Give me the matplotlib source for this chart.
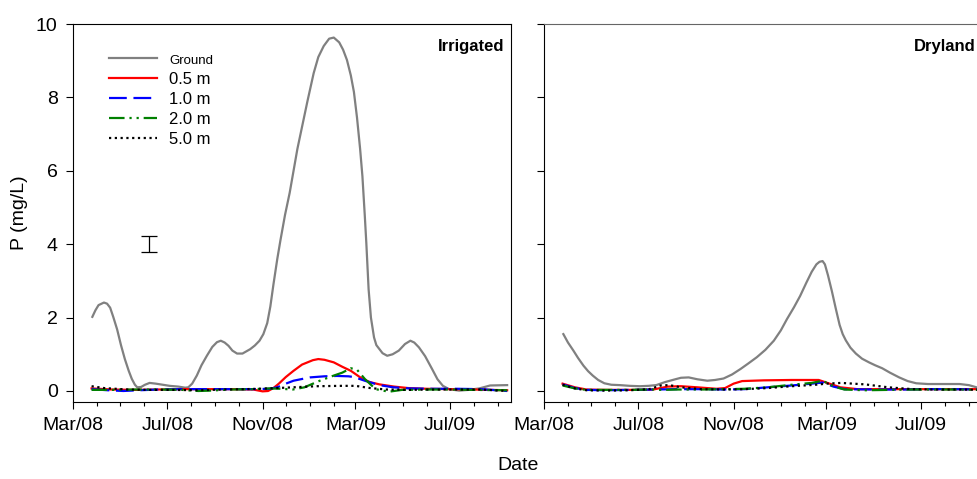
import matplotlib
matplotlib.use("Agg")
import matplotlib.pyplot as plt
import matplotlib.dates as mdates
import pandas as pd

plt.rcParams["font.family"] = ["Liberation Sans", "DejaVu Sans"]

# Irrigated site
irr_ground_dates = ["2008-03-26", "2008-03-30", "2008-04-03", "2008-04-10", "2008-04-14", "2008-04-18",
                    "2008-04-22", "2008-04-27", "2008-05-02", "2008-05-07", "2008-05-12", "2008-05-16",
                    "2008-05-20", "2008-05-23", "2008-05-28", "2008-06-02", "2008-06-08", "2008-06-16",
                    "2008-06-25", "2008-07-04", "2008-07-15", "2008-07-24", "2008-07-28", "2008-08-02",
                    "2008-08-08", "2008-08-14", "2008-08-21", "2008-08-28", "2008-09-03", "2008-09-08",
                    "2008-09-13", "2008-09-18", "2008-09-23", "2008-09-29", "2008-10-06", "2008-10-16",
                    "2008-10-22", "2008-10-28", "2008-11-02", "2008-11-07", "2008-11-11", "2008-11-15",
                    "2008-11-20", "2008-11-24", "2008-11-30", "2008-12-06", "2008-12-11", "2008-12-16",
                    "2008-12-20", "2008-12-29", "2009-01-06", "2009-01-12", "2009-01-19", "2009-01-26",
                    "2009-02-01", "2009-02-08", "2009-02-13", "2009-02-18", "2009-02-23", "2009-02-27",
                    "2009-03-03", "2009-03-07", "2009-03-10", "2009-03-13", "2009-03-15", "2009-03-18",
                    "2009-03-21", "2009-03-25", "2009-03-28", "2009-04-01", "2009-04-05", "2009-04-11",
                    "2009-04-18", "2009-04-26", "2009-05-04", "2009-05-11", "2009-05-16", "2009-05-22",
                    "2009-05-30", "2009-06-08", "2009-06-15", "2009-06-22", "2009-06-30", "2009-07-13",
                    "2009-07-25", "2009-08-08", "2009-08-22", "2009-09-13"]
irr_ground = [2.02, 2.20, 2.34, 2.41, 2.38, 2.27,
              2.02, 1.68, 1.25, 0.87, 0.55, 0.33,
              0.17, 0.10, 0.11, 0.17, 0.22, 0.20,
              0.17, 0.14, 0.12, 0.09, 0.10, 0.20,
              0.42, 0.70, 0.96, 1.20, 1.33, 1.37,
              1.32, 1.23, 1.10, 1.02, 1.02, 1.14,
              1.24, 1.37, 1.55, 1.85, 2.30, 2.90,
              3.60, 4.10, 4.80, 5.40, 6.00, 6.60,
              7.00, 7.90, 8.66, 9.10, 9.40, 9.60,
              9.63, 9.50, 9.30, 9.02, 8.60, 8.15,
              7.45, 6.60, 5.85, 4.80, 4.05, 2.77,
              2.00, 1.46, 1.25, 1.14, 1.03, 0.96,
              1.00, 1.10, 1.28, 1.37, 1.32, 1.19,
              0.95, 0.60, 0.32, 0.14, 0.05, 0.01,
              0.03, 0.07, 0.15, 0.16]

irr_05_dates = ["2008-03-25", "2008-04-20", "2008-05-20", "2008-06-20", "2008-07-20", "2008-08-20",
                "2008-09-20", "2008-10-20", "2008-11-01", "2008-11-08", "2008-11-15", "2008-11-22",
                "2008-12-01", "2008-12-11", "2008-12-22", "2009-01-05", "2009-01-12", "2009-01-20",
                "2009-02-01", "2009-02-12", "2009-02-23", "2009-03-10", "2009-03-20", "2009-04-01",
                "2009-04-20", "2009-05-08", "2009-06-01", "2009-07-01", "2009-08-01", "2009-09-13"]
irr_05 = [0.07, 0.04, 0.03, 0.04, 0.05, 0.05,
          0.05, 0.04, -0.01, 0.0, 0.08, 0.20,
          0.38, 0.55, 0.72, 0.84, 0.87, 0.85,
          0.78, 0.66, 0.55, 0.33, 0.24, 0.18,
          0.12, 0.08, 0.06, 0.05, 0.04, 0.02]

irr_10_dates = ["2008-03-25", "2008-04-15", "2008-05-05", "2008-05-25", "2008-06-20", "2008-07-20",
                "2008-08-20", "2008-09-20", "2008-10-20", "2008-11-10", "2008-11-20", "2008-12-01",
                "2008-12-11", "2009-01-01", "2009-01-20", "2009-02-05", "2009-02-20", "2009-02-27",
                "2009-03-13", "2009-04-01", "2009-04-19", "2009-05-10", "2009-06-10", "2009-07-10",
                "2009-08-10", "2009-09-13"]
irr_10 = [0.05, 0.02, 0.0, 0.02, 0.04, 0.05,
          0.05, 0.05, 0.05, 0.06, 0.10, 0.20,
          0.28, 0.37, 0.40, 0.41, 0.40, 0.38,
          0.28, 0.16, 0.10, 0.07, 0.06, 0.06,
          0.05, 0.0]

irr_20_dates = ["2008-03-25", "2008-04-20", "2008-05-20", "2008-06-20", "2008-07-20", "2008-08-10",
                "2008-08-25", "2008-09-20", "2008-10-20", "2008-11-10", "2008-11-25", "2008-12-10",
                "2008-12-25", "2009-01-14", "2009-02-01", "2009-02-12", "2009-02-23", "2009-03-03",
                "2009-03-13", "2009-03-27", "2009-04-13", "2009-04-30", "2009-06-01", "2009-07-01",
                "2009-08-01", "2009-09-13"]
irr_20 = [0.03, 0.03, 0.04, 0.04, 0.03, 0.0,
          0.01, 0.04, 0.05, 0.07, 0.06, 0.04,
          0.10, 0.28, 0.42, 0.50, 0.62, 0.58,
          0.33, 0.05, -0.02, 0.03, 0.04, 0.04,
          0.03, 0.02]

irr_50_dates = ["2008-03-25", "2008-04-10", "2008-05-10", "2008-06-10", "2008-07-10", "2008-08-10",
                "2008-09-10", "2008-10-10", "2008-11-10", "2008-12-10", "2009-01-10", "2009-02-10",
                "2009-03-01", "2009-03-20", "2009-04-10", "2009-05-10", "2009-06-10", "2009-07-10",
                "2009-08-10", "2009-09-13"]
irr_50 = [0.13, 0.08, 0.04, 0.03, 0.03, 0.02,
          0.04, 0.05, 0.07, 0.10, 0.13, 0.14,
          0.14, 0.08, 0.04, 0.03, 0.04, 0.04,
          0.04, 0.0]

# Dryland site
dry_ground_dates = ["2008-03-26", "2008-04-01", "2008-04-08", "2008-04-14", "2008-04-21", "2008-04-27",
                    "2008-05-03", "2008-05-10", "2008-05-18", "2008-05-27", "2008-06-07", "2008-06-20",
                    "2008-07-03", "2008-07-14", "2008-07-24", "2008-08-04", "2008-08-16", "2008-08-25",
                    "2008-09-04", "2008-09-15", "2008-09-28", "2008-10-08", "2008-10-19", "2008-10-30",
                    "2008-11-10", "2008-11-20", "2008-12-01", "2008-12-12", "2008-12-23", "2009-01-01",
                    "2009-01-09", "2009-01-18", "2009-01-26", "2009-02-03", "2009-02-10", "2009-02-16",
                    "2009-02-20", "2009-02-24", "2009-02-27", "2009-03-03", "2009-03-08", "2009-03-13",
                    "2009-03-18", "2009-03-22", "2009-03-26", "2009-04-01", "2009-04-08", "2009-04-16",
                    "2009-04-25", "2009-05-03", "2009-05-12", "2009-05-22", "2009-06-03", "2009-06-14",
                    "2009-06-25", "2009-07-10", "2009-07-24", "2009-08-08", "2009-08-20", "2009-09-01",
                    "2009-09-11", "2009-09-17"]
dry_ground = [1.55, 1.32, 1.10, 0.90, 0.69, 0.54,
              0.42, 0.30, 0.21, 0.17, 0.16, 0.14,
              0.13, 0.14, 0.16, 0.24, 0.31, 0.36,
              0.37, 0.32, 0.28, 0.30, 0.34, 0.45,
              0.60, 0.75, 0.92, 1.12, 1.37, 1.65,
              1.96, 2.28, 2.59, 2.95, 3.25, 3.45,
              3.52, 3.54, 3.45, 3.15, 2.72, 2.25,
              1.80, 1.55, 1.38, 1.18, 1.02, 0.88,
              0.78, 0.70, 0.62, 0.50, 0.37, 0.27,
              0.21, 0.19, 0.19, 0.19, 0.19, 0.16,
              0.10, 0.08]

dry_05_dates = ["2008-03-25", "2008-04-10", "2008-04-25", "2008-05-20", "2008-06-20", "2008-07-20",
                "2008-08-08", "2008-08-25", "2008-09-15", "2008-10-10", "2008-10-21", "2008-11-01",
                "2008-11-12", "2008-12-10", "2009-01-15", "2009-02-19", "2009-03-05", "2009-03-19",
                "2009-04-10", "2009-05-10", "2009-06-10", "2009-07-10", "2009-08-10", "2009-09-17"]
dry_05 = [0.20, 0.10, 0.04, 0.03, 0.03, 0.04,
          0.12, 0.13, 0.10, 0.06, 0.08, 0.20,
          0.27, 0.29, 0.30, 0.30, 0.20, 0.10,
          0.05, 0.05, 0.05, 0.05, 0.05, 0.05]

dry_10_dates = ["2008-03-25", "2008-04-10", "2008-04-25", "2008-05-20", "2008-06-20", "2008-07-20",
                "2008-08-20", "2008-09-20", "2008-10-20", "2008-11-15", "2008-12-15", "2009-01-15",
                "2009-02-10", "2009-02-24", "2009-03-10", "2009-03-24", "2009-05-01", "2009-06-10",
                "2009-07-10", "2009-08-10", "2009-09-17"]
dry_10 = [0.18, 0.08, 0.03, 0.02, 0.03, 0.04,
          0.05, 0.05, 0.04, 0.05, 0.10, 0.15,
          0.20, 0.23, 0.12, 0.05, 0.04, 0.04,
          0.05, 0.05, 0.04]

dry_20_dates = ["2008-03-25", "2008-04-10", "2008-04-25", "2008-05-20", "2008-06-20", "2008-07-20",
                "2008-08-01", "2008-08-20", "2008-09-20", "2008-10-20", "2008-11-15", "2008-12-15",
                "2009-01-15", "2009-02-10", "2009-02-24", "2009-03-10", "2009-03-24", "2009-04-20",
                "2009-05-20", "2009-06-20", "2009-07-20", "2009-08-20", "2009-09-17"]
dry_20 = [0.15, 0.07, 0.03, 0.03, 0.03, 0.04,
          0.03, 0.04, 0.04, 0.05, 0.06, 0.10,
          0.17, 0.22, 0.28, 0.13, 0.04, 0.02,
          0.03, 0.04, 0.04, 0.04, 0.03]

dry_50_dates = ["2008-03-25", "2008-04-10", "2008-04-25", "2008-05-20", "2008-06-20", "2008-07-15",
                "2008-07-30", "2008-08-10", "2008-08-25", "2008-09-20", "2008-10-20", "2008-11-15",
                "2008-12-15", "2009-01-15", "2009-02-15", "2009-03-01", "2009-03-20", "2009-04-20",
                "2009-05-20", "2009-06-20", "2009-07-20", "2009-08-20", "2009-09-17"]
dry_50 = [0.17, 0.07, 0.02, 0.01, 0.02, 0.05,
          0.15, 0.16, 0.10, 0.05, 0.04, 0.05,
          0.08, 0.13, 0.17, 0.20, 0.22, 0.18,
          0.10, 0.05, 0.04, 0.04, 0.03]

labels = ["Ground", "0.5 m", "1.0 m", "2.0 m", "5.0 m"]

styles = [
    dict(color="#808080", lw=1.6),
    dict(color="#ff0000", lw=1.6),
    dict(color="#0000ff", lw=1.6, dashes=(8, 3)),
    dict(color="#008000", lw=1.6, dashes=(7, 2.2, 1, 2.2, 1, 2.2)),
    dict(color="black", lw=1.6, dashes=(1, 1.6)),
]

# error bar shown on irrigated panel
err_date = "2008-06-07"
err_val = 4.0
err_size = 0.22

x_start = pd.Timestamp("2008-03-01")
x_end = pd.Timestamp("2009-09-18")

fig = plt.figure(figsize=(9.78, 4.79), dpi=100)
W, H = 978, 479
ax1 = fig.add_axes([73 / W, (H - 402) / H, 438 / W, 378 / H])
ax2 = fig.add_axes([544 / W, (H - 402) / H, 438 / W, 378 / H])

irr = [(irr_ground_dates, irr_ground), (irr_05_dates, irr_05), (irr_10_dates, irr_10),
       (irr_20_dates, irr_20), (irr_50_dates, irr_50)]
dry = [(dry_ground_dates, dry_ground), (dry_05_dates, dry_05), (dry_10_dates, dry_10),
       (dry_20_dates, dry_20), (dry_50_dates, dry_50)]

for ax, series, title in [(ax1, irr, "Irrigated"), (ax2, dry, "Dryland")]:
    for (d, v), lab, st in zip(series, labels, styles):
        ax.plot(pd.to_datetime(d), v, label=lab, solid_joinstyle="round", **st)
    ax.set_xlim(x_start, x_end)
    ax.set_ylim(-0.3, 10)
    ax.set_yticks([0, 2, 4, 6, 8, 10])
    ax.xaxis.set_major_locator(mdates.MonthLocator(bymonth=[3, 7, 11]))
    ax.xaxis.set_minor_locator(mdates.MonthLocator())
    ax.xaxis.set_major_formatter(mdates.DateFormatter("%b/%y"))
    ax.tick_params(axis="both", which="major", direction="out", length=5, width=0.8,
                   labelsize=14, pad=6)
    ax.tick_params(axis="x", which="minor", direction="out", length=3, width=0.8)
    for s in ax.spines.values():
        s.set_linewidth(0.8)
    ax.text(0.986, 0.94, title, transform=ax.transAxes, ha="right", va="center",
            fontsize=12, fontweight="bold")

ax2.tick_params(axis="y", labelleft=False)
ax2.spines["top"].set_color("#666666")

ax1.errorbar(pd.to_datetime([err_date]), [err_val], yerr=[err_size], color="black",
             lw=0.9, capsize=6, capthick=0.9)

leg = ax1.legend(loc="upper left", bbox_to_anchor=(0.082, 0.925), frameon=False,
                 fontsize=12, handlelength=2.9, handletextpad=0.7, labelspacing=0.3,
                 borderpad=0, borderaxespad=0)
leg.get_texts()[0].set_fontsize(9.5)

fig.text(20 / W, 0.5 + (H / 2 - 213) / H, "P (mg/L)", rotation=90, ha="center", va="center",
         fontsize=14)
fig.text(518 / W, (H - 465) / H, "Date", ha="center", va="center", fontsize=14)

fig.savefig("out.png", dpi=100)
